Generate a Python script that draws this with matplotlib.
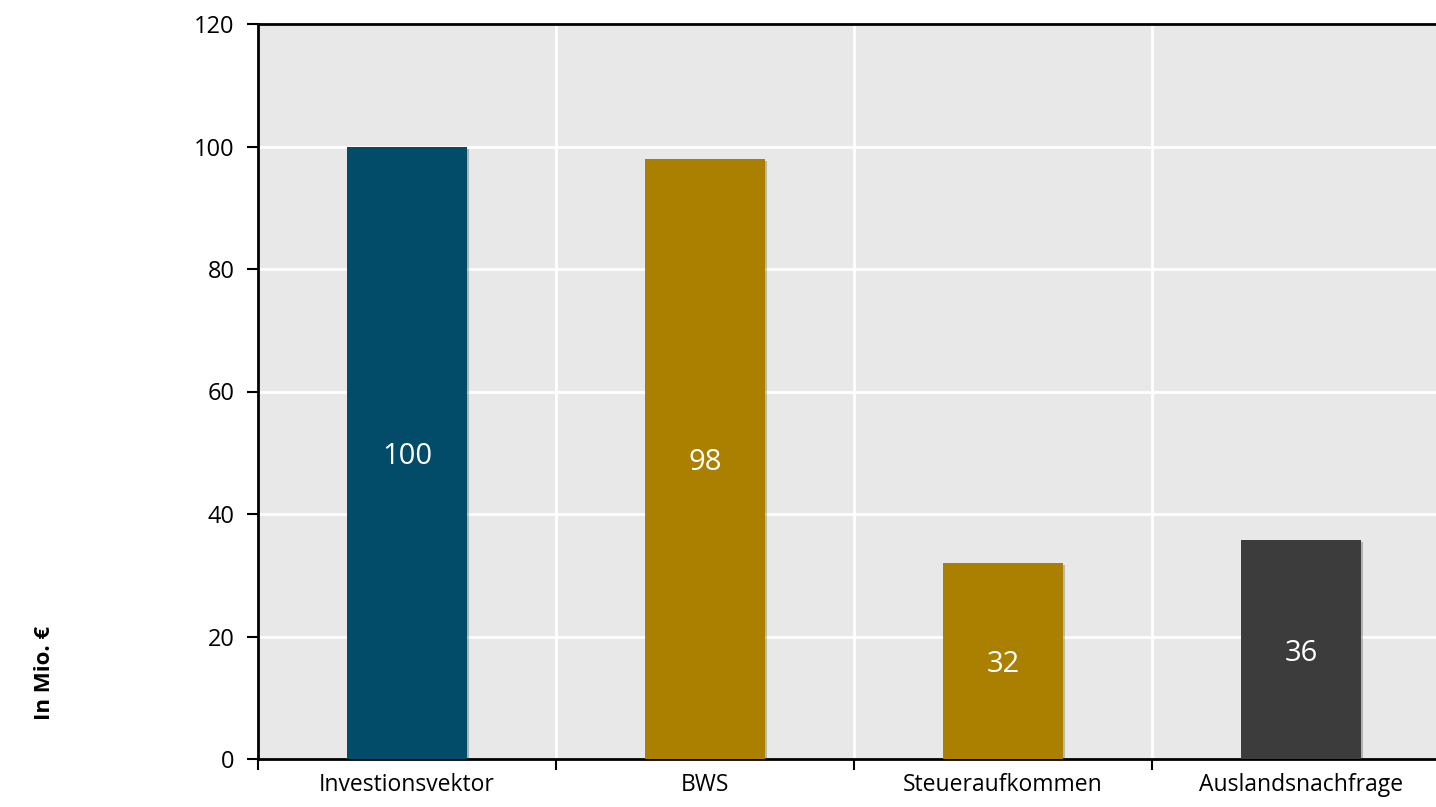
import matplotlib
matplotlib.use("Agg")
import matplotlib.pyplot as plt
import matplotlib.patheffects as pe
import matplotlib.transforms as mtransforms
import numpy as np

categories = ["Investionsvektor", "BWS", "Steueraufkommen", "Auslandsnachfrage"]
values = [100, 98, 32, 35.8]
bar_labels = ["100", "98", "32", "36"]
colors = ["#024B69", "#AB7F00", "#AB7F00", "#3C3C3C"]
y_ticks = [0, 20, 40, 60, 80, 100, 120]

plt.rcParams["font.family"] = ["Open Sans", "DejaVu Sans"]

W, H = 1436, 807
fig = plt.figure(figsize=(W / 100, H / 100), dpi=100)
# axes box in pixels: left 258, top 24, bottom 759, right clipped at figure edge
ax = fig.add_axes([258 / W, 1 - 759 / H, (W - 258) / W, (759 - 24) / H])
ax.set_facecolor("#E8E8E8")

x = np.arange(len(categories))
span = (W - 258) / 298.0  # one category ~298 px wide
ax.set_xlim(-0.5, -0.5 + span)
ax.set_ylim(0, 120)

bars = ax.bar(x, values, width=0.4, color=colors, zorder=3)
for b in bars:
    b.set_path_effects([pe.SimplePatchShadow(offset=(1.5, -1.5), alpha=0.25), pe.Normal()])

# labels sit a little below the bar middle
lab_tr = ax.transData + mtransforms.ScaledTranslation(0, -4 / 100, fig.dpi_scale_trans)
for b, lab in zip(bars, bar_labels):
    ax.text(b.get_x() + b.get_width() / 2, b.get_height() / 2, lab, transform=lab_tr,
            ha="center", va="center", color="white", fontsize=21, zorder=4)

# gridlines on category boundaries and y ticks
ax.set_xticks(np.arange(len(categories)) - 0.5)
ax.set_xticklabels([])
ax.set_xticks(x, minor=True)
ax.set_xticklabels(categories, minor=True, fontsize=16.5)
ax.tick_params(axis="x", which="major", direction="out", length=8, width=1.5, color="black")
ax.tick_params(axis="x", which="minor", length=0, pad=10)
ax.set_yticks(y_ticks)
ax.set_yticklabels([str(t) for t in y_ticks], fontsize=17)
ax.tick_params(axis="y", direction="out", length=8, width=1.5, pad=9)

ax.grid(True, which="major", color="white", linewidth=2, zorder=1)
ax.set_axisbelow(True)

for side in ["left", "bottom", "top"]:
    ax.spines[side].set_color("black")
    ax.spines[side].set_linewidth(2)
ax.spines["right"].set_visible(False)

fig.text(45 / W, 1 - 673 / H, "In Mio. €", rotation=90, ha="center", va="center",
         fontsize=16, fontweight="bold")

fig.savefig("out.png", dpi=100)
